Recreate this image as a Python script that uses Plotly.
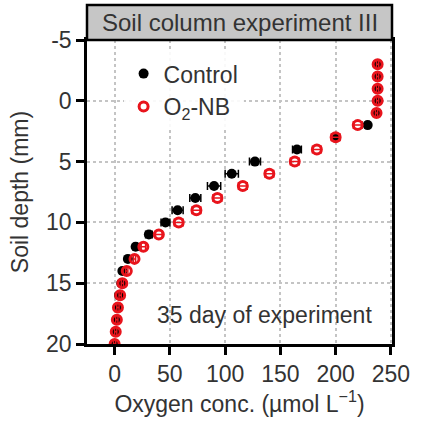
import plotly.graph_objects as go

depth = [-3, -2, -1, 0, 1, 2, 3, 4, 5, 6, 7, 8, 9, 10, 11, 12, 13, 14, 15, 16, 17, 18, 19, 20]
control = [238, 238, 238, 238, 237, 229, 200, 165, 127, 106, 90, 73, 57, 46, 31, 19, 12, 7, 6, 4, 3, 2, 1, 0]
control_err = [1, 1, 1, 1, 1, 2, 3, 4, 5, 6, 6, 5, 5, 4, 3, 2, 1, 1, 1, 1, 1, 1, 1, 1]
o2nb = [238, 238, 238, 238, 237, 220, 200, 183, 163, 140, 116, 93, 74, 58, 40, 26, 18, 11, 7, 5, 3, 2, 1, 0]
o2nb_err = [1, 1, 1, 1, 1, 4, 4, 4, 4, 4, 4, 4, 4, 4, 3, 2, 1, 1, 1, 1, 1, 1, 1, 1]

x_ticks = [0, 50, 100, 150, 200, 250]
y_ticks = [-5, 0, 5, 10, 15, 20]
y_ticktext = ["-5", "0", "5", "10", "15", "20"]

FONT = "Liberation Sans, Arial, sans-serif"
TXT = "#333333"

fig = go.Figure()
fig.add_trace(go.Scatter(
    x=control, y=depth, mode="markers", name="Control",
    marker=dict(symbol="circle", size=10, color="black"),
    error_x=dict(type="data", array=control_err, color="black", thickness=1.5, width=4),
))
fig.add_trace(go.Scatter(
    x=o2nb, y=depth, mode="markers", name="O<sub>2</sub>-NB",
    marker=dict(symbol="circle-open", size=9, color="#e8141c", line=dict(width=3, color="#e8141c")),
    error_x=dict(type="data", array=o2nb_err, color="#e8141c", thickness=1.5, width=4),
))

fig.update_layout(
    width=422, height=428,
    margin=dict(l=87, r=27, t=40, b=84),
    paper_bgcolor="white", plot_bgcolor="white",
    font=dict(family=FONT, size=23, color=TXT),
    showlegend=True,
    legend=dict(x=0.12, y=0.96, xanchor="left", yanchor="top",
                bgcolor="rgba(255,255,255,0.9)", font=dict(size=23, color=TXT),
                itemsizing="trace", tracegroupgap=0),
    xaxis=dict(range=[-25, 251], tickvals=x_ticks, ticks="outside", ticklen=8, tickwidth=2.5,
               tickcolor="black", showline=True, linewidth=2.5, linecolor="black", mirror=True,
               showgrid=True, gridcolor="#c4c4c4", griddash="dot", gridwidth=1.5, zeroline=False,
               tickfont=dict(size=23, color=TXT),
               title=dict(text="Oxygen conc. (µmol L<sup>−1</sup>)", font=dict(size=23, color=TXT), standoff=4)),
    yaxis=dict(range=[20, -5], tickvals=y_ticks, ticktext=y_ticktext, ticks="outside", ticklen=8,
               tickwidth=2.5, tickcolor="black", showline=True, linewidth=2.5, linecolor="black",
               mirror=True, showgrid=True, gridcolor="#c4c4c4", griddash="dot", gridwidth=1.5,
               zeroline=False, tickfont=dict(size=23, color=TXT),
               title=dict(text="Soil depth (mm)", font=dict(size=23, color=TXT), standoff=12)),
    shapes=[dict(type="rect", xref="paper", yref="paper", x0=0, x1=1, y0=1.0, y1=1.115,
                 fillcolor="#c6c6c6", line=dict(color="black", width=2.5), layer="above")],
    annotations=[
        dict(text="Soil column experiment III", xref="paper", yref="paper", x=0.5, y=1.057,
             showarrow=False, xanchor="center", yanchor="middle", font=dict(size=24, color=TXT)),
        dict(text="35 day of experiment", xref="paper", yref="paper", x=0.94, y=0.095,
             showarrow=False, xanchor="right", yanchor="middle", font=dict(size=23, color=TXT)),
    ],
)

fig.write_html("out.html", config={"displayModeBar": False},
               post_script="document.body.style.margin='0';")
